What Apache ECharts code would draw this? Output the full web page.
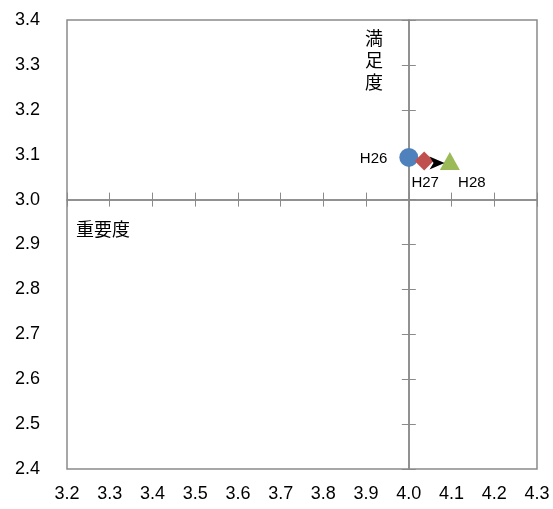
<!DOCTYPE html>
<html><head><meta charset="utf-8">
<script src="https://cdn.jsdelivr.net/npm/echarts@6/dist/echarts.min.js"></script>
<style>html,body{margin:0;padding:0;background:#fff}#c{width:553px;height:509px}</style>
</head><body><div id="c"></div>
<script>
const years = ['H26', 'H27', 'H28'];
const importance = [4.000, 4.036, 4.096];
const satisfaction = [3.094, 3.086, 3.086];
const xMin = 3.2, xMax = 4.3, yMin = 2.4, yMax = 3.4, step = 0.1;
const xCross = 4.0, yCross = 3.0;
const xTitle = '重要度', yTitle = '満足度';

const G = {left: 67, right: 16, top: 20, bottom: 40};
const W = 553, H = 509;
const gw = W - G.left - G.right, gh = H - G.top - G.bottom;
const yOff = (yCross - yMin) / (yMax - yMin) * gh;   // from bottom
const xOff = (xCross - xMin) / (xMax - xMin) * gw;   // from left
const grey = '#8a8a8a';
const font = 'Liberation Sans, Arial, sans-serif';
const cjk = '"Noto Sans CJK JP", sans-serif';

function innerX(inside) {
  return {type: 'value', min: xMin, max: xMax, interval: step, position: 'bottom', offset: -yOff,
    axisLine: {show: true, lineStyle: {color: grey, width: 1.5}},
    axisTick: {show: true, inside: inside, length: 7, lineStyle: {color: grey}},
    axisLabel: {show: false}, splitLine: {show: false}};
}
function innerY(inside) {
  return {type: 'value', min: yMin, max: yMax, interval: step, position: 'left', offset: -xOff,
    axisLine: {show: true, lineStyle: {color: grey, width: 1.5}},
    axisTick: {show: true, inside: inside, length: 7, lineStyle: {color: grey}},
    axisLabel: {show: false}, splitLine: {show: false}};
}
const colors = ['#4F81BD', '#C0504D', '#9BBB59'];
const symbols = ['circle', 'diamond', 'triangle'];
const sizes = [19, 19, [20, 18]];
const labelPos = ['left', 'bottom', 'bottom'];
const labelOff = [[-7, 1], [1, 0], [22, 0]];

const series = [];
years.forEach((y, i) => series.push({
  type: 'scatter', xAxisIndex: 0, yAxisIndex: 0, z: 5,
  data: [[importance[i], satisfaction[i]]],
  symbol: symbols[i], symbolSize: sizes[i],
  itemStyle: {color: colors[i], opacity: 1},
  label: {show: true, formatter: y, position: labelPos[i], offset: labelOff[i],
    color: '#000', fontSize: 15, fontFamily: font}
}));
series.push({
  type: 'scatter', xAxisIndex: 0, yAxisIndex: 0, z: 8,
  data: [[(importance[1] + importance[2]) / 2, (satisfaction[1] + satisfaction[2]) / 2]],
  symbol: 'path://M0,0 L15,6.5 L0,13 L4,6.5 Z', symbolSize: [15, 13], symbolOffset: [0, 2],
  itemStyle: {color: '#000', opacity: 1}
});

const chart = echarts.init(document.getElementById('c'), null, {renderer: 'canvas'});
chart.setOption({
  animation: false,
  grid: Object.assign({show: true, borderColor: grey, borderWidth: 1.5, backgroundColor: '#fff'}, G),
  xAxis: [
    {type: 'value', min: xMin, max: xMax, interval: step, position: 'bottom',
      axisLine: {show: false}, axisTick: {show: false}, splitLine: {show: false},
      axisLabel: {margin: 16, color: '#000', fontSize: 18, fontFamily: font, formatter: v => v.toFixed(1)}},
    innerX(true), innerX(false)
  ],
  yAxis: [
    {type: 'value', min: yMin, max: yMax, interval: step, position: 'left',
      axisLine: {show: false}, axisTick: {show: false}, splitLine: {show: false},
      axisLabel: {margin: 27, color: '#000', fontSize: 18, fontFamily: font, formatter: v => v.toFixed(1)}},
    innerY(true), innerY(false)
  ],
  series: series,
  graphic: [
    {type: 'text', left: 76, top: 220, style: {text: xTitle, font: '18px ' + cjk, fill: '#000'}},
    {type: 'text', left: 365, top: 27, style: {text: yTitle.split('').join('\n'), font: '18px ' + cjk, fill: '#000', lineHeight: 22}}
  ]
});
</script></body></html>
